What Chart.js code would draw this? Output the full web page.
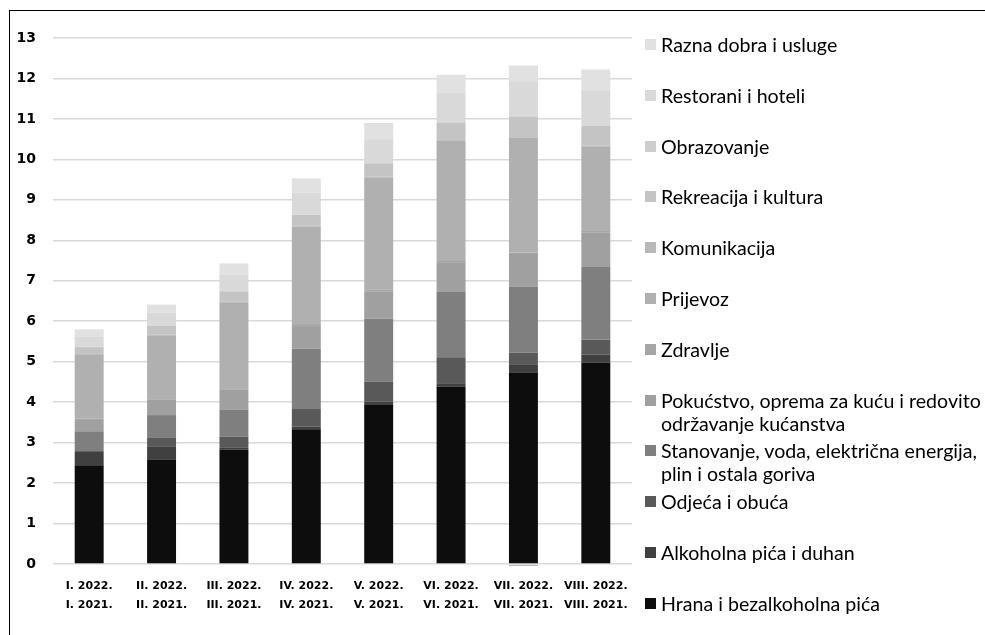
<!DOCTYPE html>
<html>
<head>
<meta charset="utf-8">
<script src="https://cdn.jsdelivr.net/npm/chart.js@4.4.1/dist/chart.umd.min.js"></script>
<style>
  html, body { margin: 0; padding: 0; background: #fff; overflow: hidden; }
  #frame { position: absolute; left: 9px; top: 10px; width: 990px; height: 640px; border: 1px solid #000; }
  #chart { position: absolute; left: 0; top: 0; }
  #legend { position: absolute; left: 645px; top: 33px; width: 360px; font-family: Lato, "Liberation Sans", sans-serif; font-size: 19.6px; color: #000; }
  .item { position: relative; height: 50.8px; line-height: 23px; padding-left: 16px; white-space: pre; }
  .box { position: absolute; left: 0; top: 6px; width: 11px; height: 11px; }
</style>
</head>
<body>
<div id="frame"></div>
<canvas id="chart" width="985" height="635"></canvas>
<div id="legend"></div>
<script>
// months: current year vs previous year
const labels = [
  ['I. 2022.', 'I. 2021.'],
  ['II. 2022.', 'II. 2021.'],
  ['III. 2022.', 'III. 2021.'],
  ['IV. 2022.', 'IV. 2021.'],
  ['V. 2022.', 'V. 2021.'],
  ['VI. 2022.', 'VI. 2021.'],
  ['VII. 2022.', 'VII. 2021.'],
  ['VIII. 2022.', 'VIII. 2021.']
];

// contributions per group
const hrana        = [2.44, 2.58, 2.82, 3.33, 3.95, 4.38, 4.73, 4.98];
const alkohol      = [0.33, 0.33, 0.05, 0.07, 0.06, 0.07, 0.19, 0.20];
const odjeca       = [0.04, 0.22, 0.28, 0.43, 0.50, 0.66, 0.30, 0.36];
const stanovanje   = [0.47, 0.55, 0.67, 1.49, 1.56, 1.61, 1.64, 1.80];
const pokucstvo    = [0.28, 0.38, 0.48, 0.56, 0.67, 0.74, 0.80, 0.86];
const zdravlje     = [0.03, 0.02, 0.02, 0.05, 0.04, 0.03, 0.03, 0.05];
const prijevoz     = [1.58, 1.56, 2.15, 2.41, 2.78, 2.97, 2.84, 2.06];
const komunikacija = [0.02, 0.03, 0.02, 0.02, 0.02, 0.02, -0.05, 0.03];
const rekreacija   = [0.17, 0.22, 0.25, 0.27, 0.32, 0.43, 0.53, 0.49];
const obrazovanje  = [0.01, 0.01, 0.01, 0.01, 0.01, 0.01, 0.01, 0.01];
const restorani    = [0.24, 0.31, 0.40, 0.54, 0.59, 0.72, 0.84, 0.87];
const razna        = [0.19, 0.20, 0.28, 0.35, 0.40, 0.45, 0.41, 0.51];

const seriesNames = [
  'Hrana i bezalkoholna pića',
  'Alkoholna pića i duhan',
  'Odjeća i obuća',
  'Stanovanje, voda, električna energija,\nplin i ostala goriva',
  'Pokućstvo, oprema za kuću i redovito\nodržavanje kućanstva',
  'Zdravlje',
  'Prijevoz',
  'Komunikacija',
  'Rekreacija i kultura',
  'Obrazovanje',
  'Restorani i hoteli',
  'Razna dobra i usluge'
];
const seriesData = [hrana, alkohol, odjeca, stanovanje, pokucstvo, zdravlje,
  prijevoz, komunikacija, rekreacija, obrazovanje, restorani, razna];
const colours = ['#0d0d0d', '#404040', '#595959', '#7f7f7f', '#a0a0a0', '#a6a6a6',
  '#b0b0b0', '#b8b8b8', '#c4c4c4', '#cdcdcd', '#d9d9d9', '#e1e1e1'];

const datasets = seriesNames.map((name, i) => ({
  label: name,
  data: seriesData[i],
  backgroundColor: colours[i],
  borderWidth: 0,
  barPercentage: 0.8,
  categoryPercentage: 0.5,
  clip: false
}));

new Chart(document.getElementById('chart').getContext('2d'), {
  type: 'bar',
  data: { labels: labels, datasets: datasets },
  options: {
    responsive: false,
    animation: false,
    layout: { padding: { left: 17, right: 353, top: 38, bottom: 15 } },
    plugins: { legend: { display: false }, tooltip: { enabled: false } },
    scales: {
      x: {
        stacked: true,
        grid: { display: false },
        border: { display: false },
        ticks: {
          color: '#000',
          padding: 5,
          maxRotation: 0,
          autoSkip: false,
          font: { family: 'DejaVu Sans', weight: 'bold', size: 11, lineHeight: '19px' }
        }
      },
      y: {
        stacked: true,
        min: 0,
        max: 13,
        afterFit: (scale) => { scale.width = 36; },
        grid: { color: '#d9d9d9', lineWidth: 1.5, drawTicks: false },
        border: { display: false },
        ticks: {
          stepSize: 1,
          color: '#000',
          padding: 17,
          font: { family: 'DejaVu Sans', weight: 'bold', size: 14 }
        }
      }
    }
  }
});

// legend, top to bottom in reverse series order
const legend = document.getElementById('legend');
for (let i = seriesNames.length - 1; i >= 0; i--) {
  const item = document.createElement('div');
  item.className = 'item';
  const box = document.createElement('span');
  box.className = 'box';
  box.style.background = colours[i];
  item.appendChild(box);
  item.appendChild(document.createTextNode(seriesNames[i]));
  legend.appendChild(item);
}
</script>
</body>
</html>
